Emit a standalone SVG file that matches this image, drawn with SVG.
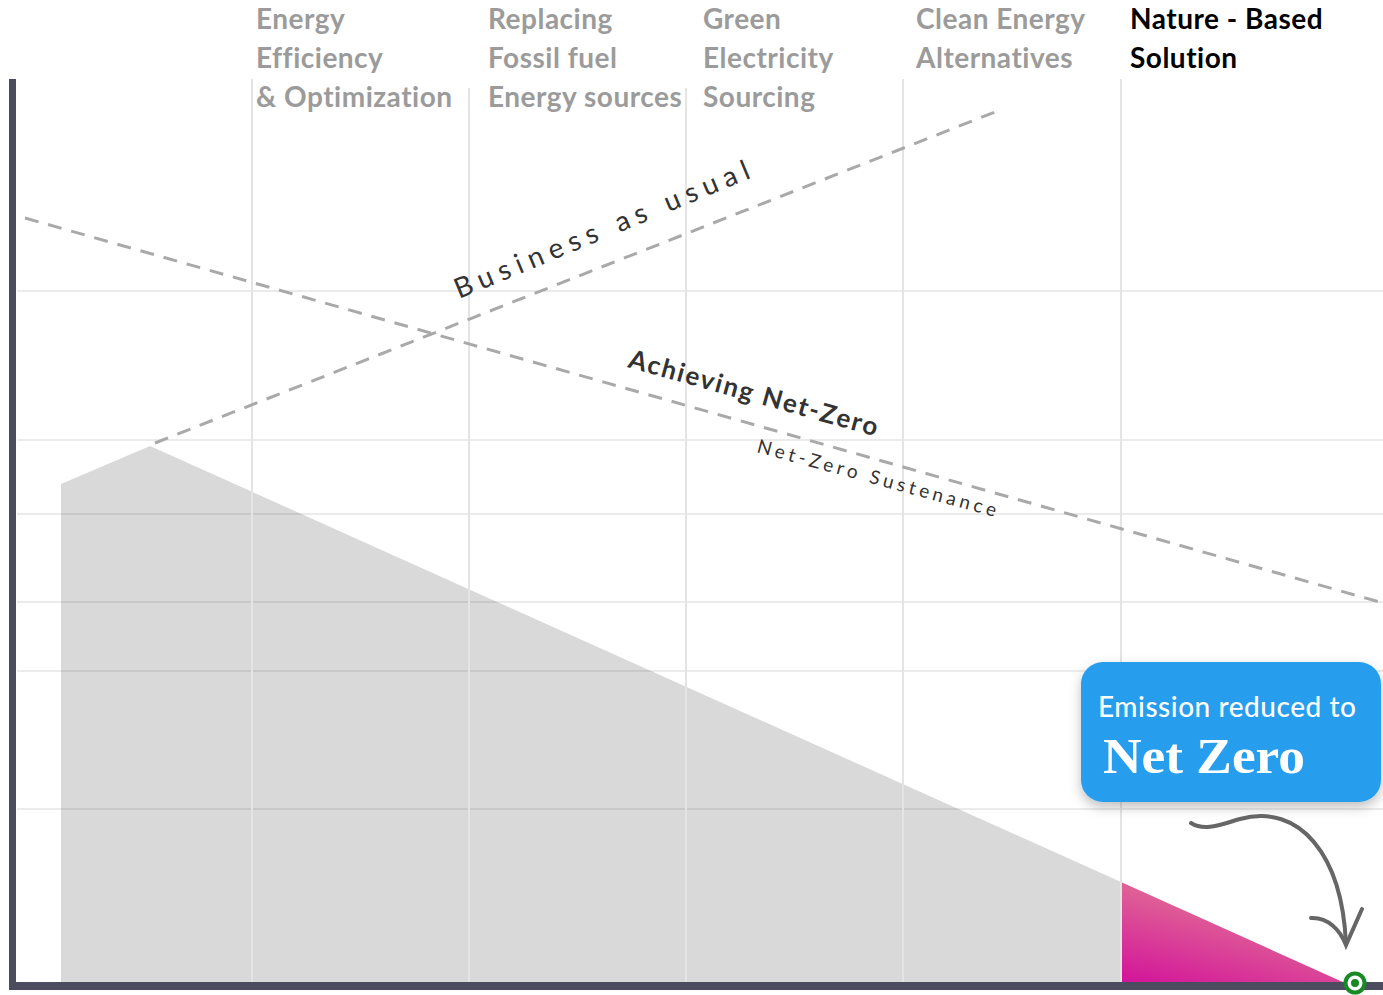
<svg xmlns="http://www.w3.org/2000/svg" width="1383" height="995" viewBox="0 0 1383 995">
<style>
.hdr{font-family:Lato,"Liberation Sans",sans-serif;font-weight:700;font-size:28px;fill:#9b9b9b;letter-spacing:0.5px}
.hdr.on{fill:#000}
.vg{stroke:#e4e4e4;stroke-width:2}
.hg{stroke:#000;stroke-opacity:0.08;stroke-width:2}
.dash{stroke:#a9a9a9;stroke-width:3;stroke-dasharray:14 10;fill:none}
.lbl{font-family:Lato,"Liberation Sans",sans-serif;fill:#333}
</style>
<defs>
<linearGradient id="pink" x1="0" y1="1" x2="0.6" y2="0">
<stop offset="0" stop-color="#d2139a"/>
<stop offset="1" stop-color="#e58094"/>
</linearGradient>
<filter id="sh" x="-10%" y="-10%" width="125%" height="140%">
<feDropShadow dx="0" dy="5" stdDeviation="6" flood-color="#000" flood-opacity="0.25"/>
</filter>
</defs>
<rect width="1383" height="995" fill="#ffffff"/>
<g id="area">
<polygon points="61,484 150,446 1121,882 1121,983 61,983" fill="#d9d9d9"/>
<polygon points="1121,882 1345,983 1121,983" fill="url(#pink)"/>
</g>
<g id="grid">
<line class="hg" x1="17" y1="291" x2="1383" y2="291"/>
<line class="hg" x1="17" y1="440" x2="1383" y2="440"/>
<line class="hg" x1="17" y1="514" x2="1383" y2="514"/>
<line class="hg" x1="17" y1="602" x2="1383" y2="602"/>
<line class="hg" x1="17" y1="671" x2="1383" y2="671"/>
<line class="hg" x1="17" y1="809" x2="1383" y2="809"/>
<line class="vg" x1="252" y1="79" x2="252" y2="982"/>
<line class="vg" x1="469" y1="88" x2="469" y2="982"/>
<line class="vg" x1="686" y1="88" x2="686" y2="982"/>
<line class="vg" x1="903" y1="79" x2="903" y2="982"/>
<line class="vg" x1="1121" y1="79" x2="1121" y2="982"/>
</g>
<g id="axes">
<line x1="12.5" y1="79" x2="12.5" y2="990" stroke="#4b4c5d" stroke-width="7"/>
<line x1="9" y1="986" x2="1383" y2="986" stroke="#4b4c5d" stroke-width="8"/>
</g>
<g id="headers">
<text class="hdr" x="256" y="29">Energy</text>
<text class="hdr" x="256" y="68">Efficiency</text>
<text class="hdr" x="256" y="107">&amp; Optimization</text>
<text class="hdr" x="488" y="29">Replacing</text>
<text class="hdr" x="488" y="68">Fossil fuel</text>
<text class="hdr" x="488" y="107">Energy sources</text>
<text class="hdr" x="703" y="29">Green</text>
<text class="hdr" x="703" y="68">Electricity</text>
<text class="hdr" x="703" y="107">Sourcing</text>
<text class="hdr" x="916" y="29">Clean Energy</text>
<text class="hdr" x="916" y="68">Alternatives</text>
<text class="hdr on" x="1130" y="29">Nature - Based</text>
<text class="hdr on" x="1130" y="68">Solution</text>
</g>
<g id="connectors">
<line class="dash" x1="155" y1="443" x2="1000" y2="110"/>
<line class="dash" x1="25" y1="218" x2="1383" y2="603"/>
</g>
<g id="labels">
<text class="lbl" transform="translate(459,299) rotate(-22.5)" font-size="28" letter-spacing="5" textLength="322">Business as usual</text>
<text class="lbl" transform="translate(627,367) rotate(15.6)" font-size="26" font-weight="700" letter-spacing="1.5" textLength="259">Achieving Net-Zero</text>
<text class="lbl" transform="translate(756,452) rotate(15.2)" font-size="19" letter-spacing="4" textLength="251">Net-Zero Sustenance</text>
</g>
<g id="callout">
<rect x="1081" y="662" width="300" height="140" rx="22" fill="#259ded" filter="url(#sh)"/>
<text x="1098" y="717" font-family="Lato,'Liberation Sans',sans-serif" font-size="28" font-weight="500" fill="#fff" textLength="258">Emission reduced to</text>
<text x="1103" y="773" font-family="'Liberation Serif','DejaVu Serif',serif" font-size="50" font-weight="700" fill="#fff" textLength="202" lengthAdjust="spacingAndGlyphs">Net Zero</text>
</g>
<g id="arrow" fill="none" stroke="#666" stroke-width="4" stroke-linecap="round">
<path d="M1191,823 C1205,832 1222,824 1240,819 C1300,803 1342,855 1346,944"/>
<path d="M1311,918 C1328,917 1340,930 1346,945 L1362,909"/>
</g>
<g id="endpoint">
<circle cx="1355" cy="983" r="9.5" fill="#fff" stroke="#178a25" stroke-width="4"/>
<circle cx="1355" cy="983" r="4" fill="#178a25"/>
</g>
</svg>
